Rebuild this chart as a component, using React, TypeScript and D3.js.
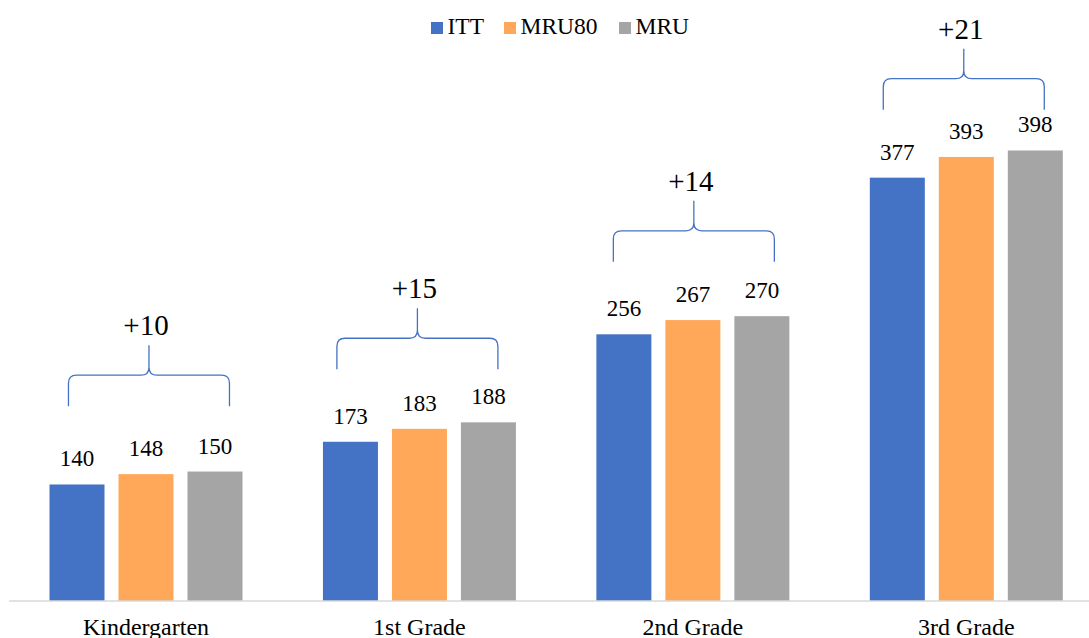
import React from "react";
import * as d3 from "d3";

const grades = ["Kindergarten", "1st Grade", "2nd Grade", "3rd Grade"];
const seriesNames = ["ITT", "MRU80", "MRU"];
const ittValues = [140, 173, 256, 377];
const mru80Values = [148, 183, 267, 393];
const mruValues = [150, 188, 270, 398];
// Height (in value units) at which each gain bracket's feet sit
const bracketLevels = [200.5, 229, 312, 429.5];

const colors = ["#4472C4", "#FFA85A", "#A5A5A5"];
const seriesValues = [ittValues, mru80Values, mruValues];

const W = 1089;
const H = 638;
const FONT = '"Times New Roman", "Liberation Serif", Times, "DejaVu Serif", serif';
const txt: React.CSSProperties = { fontFamily: FONT };

export default function App() {
  const x0 = d3.scaleBand<string>().domain(grades).range([9.25, 1103]).paddingInner(0).paddingOuter(0);
  const x1 = d3
    .scaleBand<string>()
    .domain(seriesNames)
    .range([40.25, 233.25])
    .paddingInner(14 / 69)
    .paddingOuter(0);
  const y = d3.scaleLinear().domain([50, 500]).range([601, 601 - 1.2946 * 450]);

  const braceW = 161;
  const r = 8;

  const bracePath = (cx: number, yb: number) => {
    const xa = cx - braceW / 2;
    const xb = cx + braceW / 2;
    const yh = yb - 31;
    const tip = yb - 61;
    return [
      `M${xa},${yb} L${xa},${yh + r} Q${xa},${yh} ${xa + r},${yh} L${cx - r},${yh} Q${cx},${yh} ${cx},${yh - r} L${cx},${tip}`,
      `M${cx},${yh - r} Q${cx},${yh} ${cx + r},${yh} L${xb - r},${yh} Q${xb},${yh} ${xb},${yh + r} L${xb},${yb}`,
    ].join(" ");
  };

  const legendItems = [
    { name: seriesNames[0], x: 431 },
    { name: seriesNames[1], x: 504 },
    { name: seriesNames[2], x: 619 },
  ];

  // small horizontal nudges of each bracket around its group centre
  const braceShift = [3, -2, 1, -2.5];

  return (
    <svg
      width={W}
      height={H}
      style={{ position: "absolute", left: 0, top: 0, background: "#fff" }}
    >
      <rect x={0} y={0} width={W} height={H} fill="#fff" />

      {/* legend */}
      {legendItems.map((it, i) => (
        <g key={it.name}>
          <rect x={it.x} y={22} width={12} height={12} fill={colors[i]} />
          <text x={it.x + 16.5} y={33.5} fontSize={23.5} fill="#000" style={txt}>
            {it.name}
          </text>
        </g>
      ))}

      {/* bars and value labels */}
      {grades.map((g, gi) => (
        <g key={g} transform={`translate(${x0(g)},0)`}>
          {seriesNames.map((s, si) => {
            const v = seriesValues[si][gi];
            const bx = x1(s)!;
            return (
              <g key={s}>
                <rect x={bx} y={y(v)} width={x1.bandwidth()} height={y(50) - y(v)} fill={colors[si]} />
                <text
                  x={bx + x1.bandwidth() / 2}
                  y={y(v) - 18}
                  fontSize={23}
                  textAnchor="middle"
                  fill="#000"
                  style={txt}
                >
                  {v}
                </text>
              </g>
            );
          })}
        </g>
      ))}

      {/* gain brackets */}
      {grades.map((g, gi) => {
        const cx = x0(g)! + x0.bandwidth() / 2 + braceShift[gi];
        const yb = y(bracketLevels[gi]);
        const gain = mruValues[gi] - ittValues[gi];
        return (
          <g key={g}>
            <path d={bracePath(cx, yb)} fill="none" stroke="#4472C4" strokeWidth={1.3} />
            <text x={cx - 3} y={yb - 71} fontSize={29} textAnchor="middle" fill="#000" style={txt}>
              {`+${gain}`}
            </text>
          </g>
        );
      })}

      {/* category axis */}
      <line x1={9} x2={W} y1={y(50)} y2={y(50)} stroke="#D9D9D9" strokeWidth={1.5} />
      {grades.map((g) => (
        <text
          key={g}
          x={x0(g)! + x0.bandwidth() / 2}
          y={634.5}
          fontSize={24}
          textAnchor="middle"
          fill="#000"
          style={txt}
        >
          {g}
        </text>
      ))}
    </svg>
  );
}
